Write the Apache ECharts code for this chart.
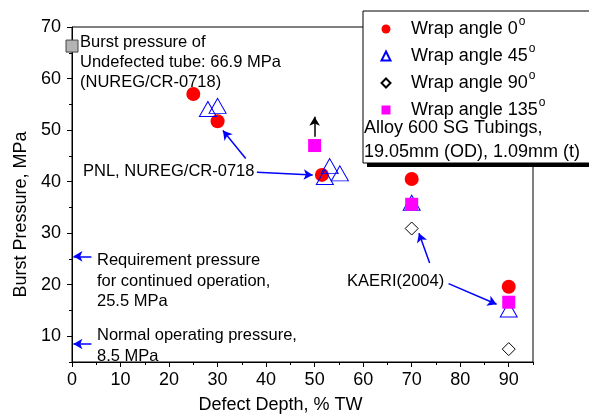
<!DOCTYPE html>
<html>
<head>
<meta charset="utf-8">
<script src="https://cdn.jsdelivr.net/npm/echarts@6/dist/echarts.min.js"></script>
<style>
  html, body { margin: 0; padding: 0; background: #fff; }
  #main { width: 589px; height: 419px; }
</style>
</head>
<body>
<div id="main"></div>
<script>
// data
var depth0 = [25, 30, 51.5, 70, 90];
var burst0 = [57.0, 51.7, 41.3, 40.5, 19.6];
var depth45 = [28, 30, 53.1, 52.1, 55.2, 70, 90];
var burst45 = [54.1, 54.7, 43.0, 40.9, 41.6, 35.9, 15.2];
var depth90 = [70, 90];
var burst90 = [30.9, 7.5];
var depth135 = [50, 70, 90];
var burst135 = [47.0, 35.6, 16.6];
var undefected = [0, 66.3];

var xTicks = [0, 10, 20, 30, 40, 50, 60, 70, 80, 90];
var xMinor = [5, 15, 25, 35, 45, 55, 65, 75, 85, 95];
var yTicks = [10, 20, 30, 40, 50, 60, 70];
var yMinor = [5, 15, 25, 35, 45, 55, 65];

// arrows, in data coords [from, to]
var blueArrows = [
  [[35.8, 44.5], [31.1, 49.9]],
  [[38.1, 41.8], [49.6, 41.3]],
  [[73.7, 24.2], [71.5, 30.0]],
  [[77.6, 20.2], [87.5, 16.2]],
  [[4.0, 25.5], [0.3, 25.5]],
  [[4.0, 8.5], [0.3, 8.5]]
];
var upArrow = [[50, 48.7], [50, 52.6]];

function pairs(xs, ys) {
  return xs.map(function (x, i) { return [x, ys[i]]; });
}

var font = 'Liberation Sans, Arial, sans-serif';
var black = '#000';

function label(text, x, y, size) {
  return {
    type: 'text', left: x, top: y - 10, z: 30,
    style: { text: text, font: (size || 16.5) + 'px ' + font, fill: black, lineHeight: 20 }
  };
}

var arrowLines = blueArrows.map(function (a) {
  return [{ coord: a[0], lineStyle: { color: '#0000ff', width: 1.5, type: 'solid' } }, { coord: a[1] }];
});
arrowLines.push([{ coord: upArrow[0], lineStyle: { color: black, width: 1.5, type: 'solid' } }, { coord: upArrow[1] }]);

var myChart = echarts.init(document.getElementById('main'));

var option = {
  animation: false,
  backgroundColor: '#fff',
  grid: { left: 72, right: 56, top: 27, bottom: 53, show: true, borderColor: black, borderWidth: 1 },
  xAxis: [
    {
      type: 'value', min: 0, max: 95, interval: 10,
      name: 'Defect Depth, % TW', nameLocation: 'middle', nameGap: 34,
      nameTextStyle: { fontSize: 18, fontFamily: font, color: black, padding: [0, 44, 0, 0] },
      axisLine: { lineStyle: { color: black, width: 1 } },
      axisTick: { show: true, inside: false, length: 5, lineStyle: { color: black }, customValues: xTicks },
      axisLabel: { fontSize: 18, fontFamily: font, color: black, margin: 9, customValues: xTicks },
      splitLine: { show: false }
    },
    {
      type: 'value', min: 0, max: 95, position: 'bottom',
      axisLine: { show: false },
      axisTick: { show: true, length: 3, lineStyle: { color: black }, customValues: xMinor },
      axisLabel: { show: false },
      splitLine: { show: false }
    }
  ],
  yAxis: [
    {
      type: 'value', min: 5, max: 70, interval: 5,
      name: 'Burst Pressure, MPa', nameLocation: 'middle', nameGap: 41,
      nameTextStyle: { fontSize: 18, fontFamily: font, color: black, padding: [0, 40, 0, 0] },
      axisLine: { show: true, lineStyle: { color: black, width: 1 } },
      axisTick: { show: true, length: 5, lineStyle: { color: black }, customValues: yTicks },
      axisLabel: { fontSize: 18, fontFamily: font, color: black, margin: 11, customValues: yTicks },
      splitLine: { show: false }
    },
    {
      type: 'value', min: 5, max: 70, position: 'left',
      axisLine: { show: false },
      axisTick: { show: true, length: 3, lineStyle: { color: black }, customValues: yMinor },
      axisLabel: { show: false },
      splitLine: { show: false }
    }
  ],
  legend: {
    orient: 'vertical', left: 380.5, top: 16, padding: 0, z: 40,
    itemWidth: 9, itemHeight: 9, itemGap: 1,
    data: ['Wrap angle 0', 'Wrap angle 45', 'Wrap angle 90', 'Wrap angle 135'],
    formatter: function (name) { return '{t|' + name + '}{sup|o}'; },
    textStyle: {
      fontSize: 18, fontFamily: font, color: black, lineHeight: 26,
      rich: {
        t: { fontSize: 18, fontFamily: font, color: black, lineHeight: 26, padding: [0, 0, 0, 15.5] },
        sup: { fontSize: 12, fontFamily: font, color: black, lineHeight: 14, verticalAlign: 'top', padding: [0, 0, 0, 1] }
      }
    }
  },
  graphic: [
    { type: 'rect', z: 20, shape: { x: 367, y: 15, width: 240, height: 152 }, style: { fill: black } },
    { type: 'rect', z: 21, shape: { x: 363, y: 11, width: 240, height: 152 }, style: { fill: '#fff', stroke: black, lineWidth: 1 } },
    label('Alloy 600 SG Tubings,', 364, 128, 18),
    label('19.05mm (OD), 1.09mm (t)', 364, 152, 18),
    label('Burst pressure of', 80, 42),
    label('Undefected tube: 66.9 MPa', 80, 62),
    label('(NUREG/CR-0718)', 80, 82),
    label('PNL, NUREG/CR-0718', 83, 171),
    label('KAERI(2004)', 347, 281),
    label('Requirement pressure', 97, 260),
    label('for continued operation,', 97, 281),
    label('25.5 MPa', 97, 301),
    label('Normal operating pressure,', 97, 335),
    label('8.5 MPa', 97, 356)
  ],
  series: [
    {
      name: 'Wrap angle 0', type: 'scatter', symbol: 'circle', symbolSize: 14, z: 3,
      itemStyle: { color: '#ff0000', opacity: 1 },
      data: pairs(depth0, burst0)
    },
    {
      name: 'Wrap angle 45', type: 'scatter', symbol: 'triangle', symbolSize: [17, 15], z: 4,
      itemStyle: { color: 'rgba(0,0,0,0)', borderColor: '#0000ff', borderWidth: 1, opacity: 1 },
      data: pairs(depth45, burst45)
    },
    {
      name: 'Wrap angle 90', type: 'scatter', symbol: 'diamond', symbolSize: 13, z: 5,
      itemStyle: { color: 'rgba(0,0,0,0)', borderColor: black, borderWidth: 1, opacity: 1 },
      data: pairs(depth90, burst90)
    },
    {
      name: 'Wrap angle 135', type: 'scatter', symbol: 'rect', symbolSize: 13, z: 6,
      itemStyle: { color: '#ff00ff', opacity: 1 },
      data: pairs(depth135, burst135)
    },
    {
      name: 'Undefected', type: 'scatter', symbol: 'rect', symbolSize: 12, z: 7,
      itemStyle: { color: '#b4b4b4', borderColor: '#444', borderWidth: 1, opacity: 1 },
      data: [undefected],
      markLine: {
        silent: true, animation: false,
        symbol: ['none', 'arrow'], symbolSize: [8, 9],
        label: { show: false },
        emphasis: { disabled: true },
        data: arrowLines
      }
    }
  ]
};

myChart.setOption(option);
</script>
</body>
</html>
